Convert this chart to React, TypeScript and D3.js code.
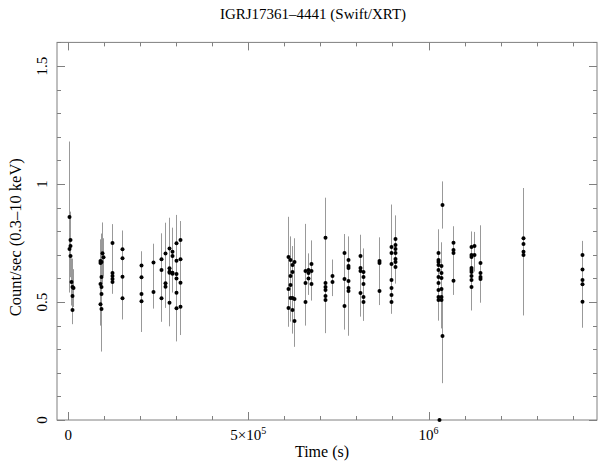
import React from "react";
import * as d3 from "d3";

// Light curve: time (s), rate (count/s), 1-sigma error
const times: number[] = [
  2770, 5540, 5540, 2770, 5540, 8310, 11080, 13850, 11080, 11080,
  88640, 91410, 94180, 96950, 88640, 91410, 88640, 91410, 91410, 88640, 91410,
  120500, 120500, 120500, 120500, 120500,
  149600, 149600, 149600, 149600,
  202200, 202200, 202200, 202200,
  235450, 235450,
  259000, 259000, 259000,
  268700, 268700, 268700,
  279800, 279800, 279800, 279800, 279800,
  288100, 288100, 288100, 288100,
  299200, 299200, 299200, 299200, 299200, 299200,
  310200, 310200, 310200, 310200,
  609400, 609400, 609400,
  615000, 615000, 615000, 615000,
  620500, 620500, 620500, 620500,
  626000, 626000, 626000,
  656500, 656500, 656500,
  664800, 664800, 664800,
  673100, 673100, 673100,
  711900, 711900, 711900, 711900, 711900, 711900,
  731300, 731300,
  764500, 764500, 764500,
  775600, 775600, 775600, 775600, 775600, 775600,
  808800, 808800, 808800, 808800,
  817200, 817200, 817200, 817200, 817200,
  861500, 861500, 861500,
  894700, 894700, 894700, 894700, 894700, 894700, 894700,
  905800, 905800, 905800, 905800, 905800, 905800, 905800,
  1027700, 1027700, 1027700, 1027700, 1027700, 1027700, 1027700, 1027700, 1027700, 1027700,
  1036000, 1036000, 1036000, 1036000, 1036000, 1036000,
  1038700, 1038700,
  1030400,
  1069200, 1069200, 1069200, 1069200,
  1119100, 1119100, 1119100, 1119100, 1119100, 1119100, 1119100, 1119100, 1119100,
  1127400, 1127400,
  1144000, 1144000, 1144000, 1144000,
  1263100, 1263100, 1263100, 1263100,
  1426500, 1426500, 1426500, 1426500, 1426500,
];

const rates: number[] = [
  0.86, 0.763, 0.737, 0.725, 0.695, 0.585, 0.564, 0.559, 0.525, 0.466,
  0.665, 0.67, 0.707, 0.69, 0.674, 0.606, 0.576, 0.564, 0.534, 0.49, 0.47,
  0.75, 0.623, 0.61, 0.597, 0.585,
  0.723, 0.685, 0.607, 0.516,
  0.655, 0.605, 0.534, 0.503,
  0.667, 0.542,
  0.681, 0.636, 0.516,
  0.706, 0.579, 0.565,
  0.727, 0.643, 0.628, 0.624, 0.497,
  0.713, 0.695, 0.624, 0.62,
  0.749, 0.675, 0.619, 0.6, 0.539, 0.473,
  0.763, 0.681, 0.582, 0.48,
  0.691, 0.555, 0.475,
  0.678, 0.61, 0.572, 0.517,
  0.657, 0.627, 0.517, 0.466,
  0.67, 0.513, 0.42,
  0.631, 0.58, 0.5,
  0.636, 0.623, 0.6,
  0.661, 0.631, 0.576,
  0.772, 0.58, 0.564, 0.551, 0.525, 0.508,
  0.61, 0.585,
  0.708, 0.597, 0.483,
  0.678, 0.653, 0.644, 0.589, 0.559, 0.547,
  0.695, 0.644, 0.631, 0.538,
  0.627, 0.606, 0.576, 0.521, 0.5,
  0.674, 0.665, 0.547,
  0.733, 0.708, 0.661, 0.593, 0.559, 0.53, 0.5,
  0.767, 0.742, 0.725, 0.708, 0.682, 0.67, 0.648,
  0.708, 0.678, 0.67, 0.657, 0.636, 0.606, 0.58, 0.551, 0.521, 0.508,
  0.653, 0.623, 0.602, 0.555, 0.521, 0.508,
  0.911, 0.356,
  0.0,
  0.751, 0.72, 0.708, 0.59,
  0.733, 0.699, 0.691, 0.644, 0.636, 0.627, 0.61, 0.593, 0.564,
  0.737, 0.699,
  0.665, 0.623, 0.606, 0.597,
  0.77, 0.746, 0.713, 0.699,
  0.699, 0.638, 0.593, 0.575, 0.501,
];

const errors: number[] = [
  0.32, 0.12, 0.1, 0.14, 0.09, 0.1, 0.12, 0.08, 0.09, 0.06,
  0.1, 0.12, 0.13, 0.08, 0.09, 0.11, 0.1, 0.12, 0.12, 0.09, 0.18,
  0.08, 0.06, 0.05, 0.06, 0.05,
  0.08, 0.07, 0.1, 0.09,
  0.06, 0.07, 0.1, 0.13,
  0.08, 0.07,
  0.11, 0.08, 0.1,
  0.13, 0.1, 0.09,
  0.13, 0.08, 0.07, 0.07, 0.1,
  0.1, 0.12, 0.07, 0.08,
  0.12, 0.1, 0.08, 0.09, 0.1, 0.14,
  0.08, 0.1, 0.09, 0.12,
  0.17, 0.1, 0.08,
  0.1, 0.14, 0.09, 0.1,
  0.08, 0.1, 0.12, 0.1,
  0.1, 0.09, 0.11,
  0.2, 0.1, 0.1,
  0.07, 0.08, 0.07,
  0.1, 0.08, 0.07,
  0.17, 0.12, 0.1, 0.15, 0.1, 0.14,
  0.07, 0.06,
  0.08, 0.1, 0.1,
  0.1, 0.08, 0.09, 0.1, 0.12, 0.19,
  0.09, 0.07, 0.08, 0.1,
  0.1, 0.08, 0.09, 0.07, 0.08,
  0.1, 0.08, 0.06,
  0.18, 0.1, 0.1, 0.08, 0.08, 0.07, 0.05,
  0.1, 0.08, 0.07, 0.08, 0.07, 0.06, 0.07,
  0.1, 0.09, 0.1, 0.08, 0.08, 0.1, 0.1, 0.09, 0.1, 0.08,
  0.1, 0.09, 0.1, 0.12, 0.09, 0.12,
  0.1, 0.2,
  0.004,
  0.07, 0.08, 0.09, 0.06,
  0.06, 0.1, 0.1, 0.1, 0.09, 0.1, 0.08, 0.09, 0.1,
  0.06, 0.07,
  0.16, 0.1, 0.08, 0.1,
  0.1, 0.08, 0.27, 0.12,
  0.06, 0.1, 0.08, 0.1, 0.11,
];

const xMajorTicks: number[] = [0, 500000, 1000000];
const yMajorTicks: number[] = [0, 0.5, 1, 1.5];
const yTickLabels: string[] = ["0", "0.5", "1", "1.5"];

const W = 600;
const H = 461;
const left = 57;
const right = 597;
const top = 42.4;
const bottom = 420;

export default function App() {
  const x = d3
    .scaleLinear()
    .domain([-31000, 1.4676e6])
    .range([left, right]);
  const y = d3.scaleLinear().domain([0, 1.6]).range([bottom, top]);

  const xMinor = d3.range(0, 1.46e6, 100000);
  const yMinor = d3.range(0, 1.61, 0.1);

  const axisColor = "#808080";
  const font = "'Liberation Serif', 'DejaVu Serif', serif";

  const isMajorX = (v: number) => Math.abs(v % 500000) < 1;
  const isMajorY = (v: number) => Math.abs(Math.round(v * 10) % 5) === 0;

  const pts = times.map((t, i) => ({ t, r: rates[i], e: errors[i] }));

  return (
    <svg
      width={W}
      height={H}
      style={{ position: "absolute", left: 0, top: 0, background: "#fff" }}
      fontFamily={font}
    >
      <rect x={0} y={0} width={W} height={H} fill="#fff" />
      {/* frame */}
      <rect
        x={left}
        y={top}
        width={right - left}
        height={bottom - top}
        fill="none"
        stroke={axisColor}
        strokeWidth={1}
      />
      {/* x ticks bottom/top */}
      {xMinor.map((v) => {
        const len = isMajorX(v) ? 8 : 4;
        const px = Math.round(x(v)) + 0.5;
        return (
          <g key={"xt" + v}>
            <line x1={px} x2={px} y1={bottom} y2={bottom - len} stroke={axisColor} />
            <line x1={px} x2={px} y1={top} y2={top + len} stroke={axisColor} />
          </g>
        );
      })}
      {/* y ticks left/right */}
      {yMinor.map((v) => {
        const len = isMajorY(v) ? 8 : 4;
        const py = Math.round(y(v)) + 0.5;
        return (
          <g key={"yt" + v.toFixed(1)}>
            <line x1={left} x2={left + len} y1={py} y2={py} stroke={axisColor} />
            <line x1={right} x2={right - len} y1={py} y2={py} stroke={axisColor} />
          </g>
        );
      })}
      {/* x tick labels */}
      <text x={x(xMajorTicks[0])} y={440} fontSize={15} textAnchor="middle">
        0
      </text>
      <text x={x(xMajorTicks[1])} y={440} fontSize={15} textAnchor="middle">
        5×10
        <tspan dy={-6} fontSize={10}>
          5
        </tspan>
      </text>
      <text x={x(xMajorTicks[2])} y={440} fontSize={15} textAnchor="middle">
        10
        <tspan dy={-6} fontSize={10}>
          6
        </tspan>
      </text>
      {/* y tick labels */}
      {yMajorTicks.map((v, i) => (
        <text
          key={"yl" + v}
          transform={`translate(47,${y(v)}) rotate(-90)`}
          fontSize={15}
          textAnchor="middle"
        >
          {yTickLabels[i]}
        </text>
      ))}
      {/* axis titles */}
      <text x={322} y={457} fontSize={16} textAnchor="middle">
        Time (s)
      </text>
      <text
        transform={`translate(21,${(top + bottom) / 2 + 6}) rotate(-90)`}
        fontSize={16.5}
        textAnchor="middle"
      >
        Count/sec (0.3–10 keV)
      </text>
      <text x={313} y={19} fontSize={15} textAnchor="middle">
        IGRJ17361–4441 (Swift/XRT)
      </text>
      {/* error bars */}
      <g stroke="#999" strokeWidth={1}>
        {pts.map((p, i) => {
          const px = Math.round(x(p.t)) + 0.5;
          return (
            <line
              key={"e" + i}
              x1={px}
              x2={px}
              y1={y(Math.min(1.6, p.r + p.e))}
              y2={y(Math.max(0, p.r - p.e))}
            />
          );
        })}
      </g>
      {/* points */}
      <g fill="#000">
        {pts.map((p, i) => (
          <circle key={"p" + i} cx={Math.round(x(p.t)) + 0.5} cy={y(p.r)} r={2} />
        ))}
      </g>
    </svg>
  );
}
